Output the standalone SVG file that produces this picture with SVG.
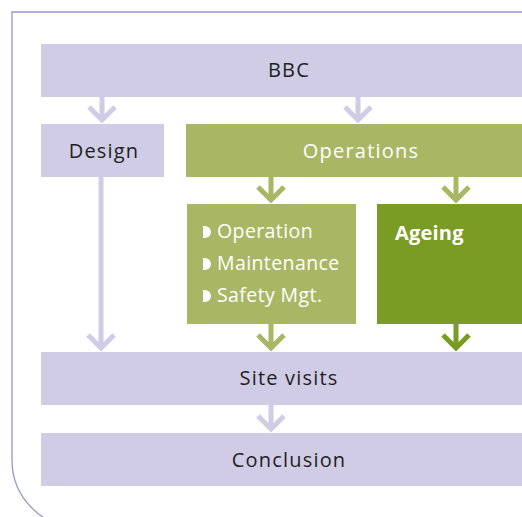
<svg xmlns="http://www.w3.org/2000/svg" width="522" height="517" viewBox="0 0 522 517">
<style>
.lav{fill:#d0cce5}
.lg{fill:#a9b765}
.dg{fill:#7a9c25}
.t{font-family:"Open Sans","Noto Sans",sans-serif;font-size:20px;letter-spacing:1.2px}
.dark{fill:#1e1e1e}
.wh{fill:#ffffff}
.li{font-family:"Open Sans","Noto Sans",sans-serif;font-size:19.5px;letter-spacing:0.4px;fill:#ffffff}
.b{font-family:"Open Sans","Noto Sans",sans-serif;font-size:20px;font-weight:bold;letter-spacing:0.2px;fill:#ffffff}
.a{fill:none;stroke-width:5;stroke-linejoin:miter;stroke-miterlimit:10}
.al{stroke:#d0cce5}
.ag{stroke:#a9b765}
.ad{stroke:#7a9c25}
</style>
<rect width="522" height="517" fill="#ffffff"/>
<path d="M530,12 H12 V460 A68 68 0 0 0 80 528" fill="none" stroke="#9896c6" stroke-width="1.3"/>
<g id="connectors">
<path class="a al" d="M102,97 V120 M89,107 L102,120 L115,107"/>
<path class="a al" d="M358,97 V120 M345,107 L358,120 L371,107"/>
<path class="a ag" d="M271,177 V200 M258,187 L271,200 L284,187"/>
<path class="a ag" d="M456,177 V200 M443,187 L456,200 L469,187"/>
<path class="a al" d="M101,177 V348 M88,335 L101,348 L114,335"/>
<path class="a ag" d="M271,324 V348 M258,335 L271,348 L284,335"/>
<path class="a ad" d="M456,324 V348 M443,335 L456,348 L469,335"/>
<path class="a al" d="M271,405 V429 M258,416 L271,429 L284,416"/>
</g>
<g id="bbc">
<rect class="lav" x="41" y="44" width="490" height="53"/>
<text class="t dark" x="289" y="77" text-anchor="middle">BBC</text>
</g>
<g id="design">
<rect class="lav" x="41" y="124" width="123" height="53"/>
<text class="t dark" x="104" y="158" text-anchor="middle">Design</text>
</g>
<g id="operations">
<rect class="lg" x="186" y="124" width="345" height="53"/>
<text class="t wh" x="361" y="158" text-anchor="middle">Operations</text>
</g>
<g id="ops-list">
<rect class="lg" x="187" y="204" width="169" height="120"/>
<path d="M203,226 H205 A6 6 0 0 1 205 238 H203 Z" fill="#ffffff"/>
<path d="M203,258 H205 A6 6 0 0 1 205 270 H203 Z" fill="#ffffff"/>
<path d="M203,290 H205 A6 6 0 0 1 205 302 H203 Z" fill="#ffffff"/>
<text class="li" x="217" y="238">Operation</text>
<text class="li" x="217" y="270">Maintenance</text>
<text class="li" x="217" y="302">Safety Mgt.</text>
</g>
<g id="ageing">
<rect class="dg" x="377" y="204" width="154" height="120"/>
<text class="b" x="395" y="240">Ageing</text>
</g>
<g id="site-visits">
<rect class="lav" x="41" y="352" width="490" height="53"/>
<text class="t dark" x="289" y="385" text-anchor="middle">Site visits</text>
</g>
<g id="conclusion">
<rect class="lav" x="41" y="433" width="490" height="53"/>
<text class="t dark" x="289" y="467" text-anchor="middle">Conclusion</text>
</g>
</svg>
